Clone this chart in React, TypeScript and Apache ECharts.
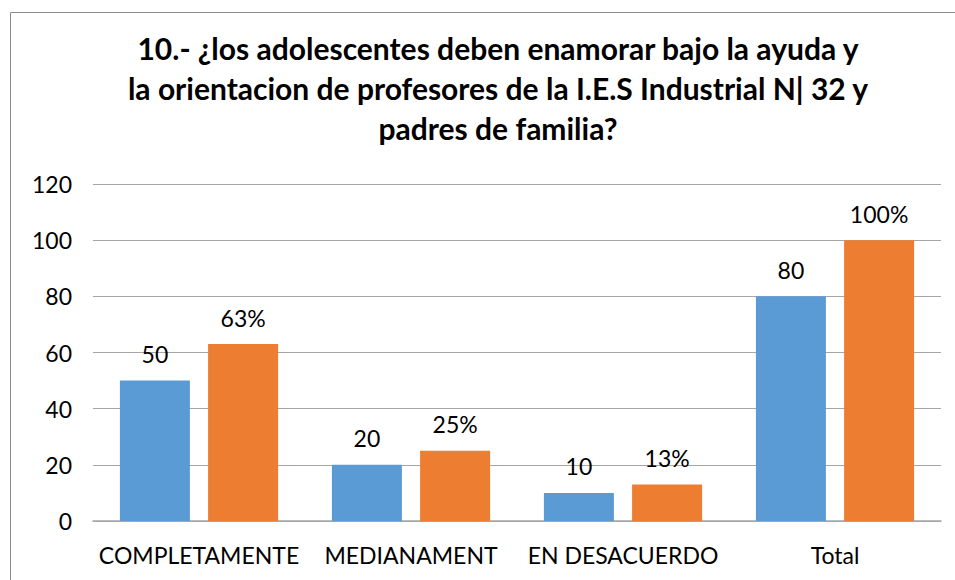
import React, { useEffect, useRef } from "react";
import * as echarts from "echarts";

const categories = ["COMPLETAMENTE", "MEDIANAMENT", "EN DESACUERDO", "Total"];
const countValues = [50, 20, 10, 80];
const percentValues = [63, 25, 13, 100];
const titleLines = [
  "10.- ¿los adolescentes deben enamorar bajo la ayuda y",
  "la orientacion de profesores de la I.E.S Industrial N| 32 y",
  "padres de familia?",
];

const FONT = "Lato, 'Liberation Sans', sans-serif";

export default function App() {
  const ref = useRef<HTMLDivElement>(null);
  useEffect(() => {
    document.body.style.margin = "0";
    const chart = echarts.init(ref.current!, null, { renderer: "svg" });
    chart.setOption({
      animation: false,
      backgroundColor: "#ffffff",
      textStyle: { fontFamily: FONT },
      graphic: [
        {
          type: "rect",
          shape: { x: 10.5, y: 12.5, width: 960, height: 600 },
          style: { fill: "none", stroke: "#8c8c8c", lineWidth: 1 },
          silent: true,
        },
        ...titleLines.map((t, i) => ({
          type: "text",
          x: 498,
          y: 48 + i * 40,
          style: {
            text: t,
            fontFamily: FONT,
            fontSize: 30,
            fontWeight: "bold",
            fill: "#000000",
            textAlign: "center",
            textVerticalAlign: "middle",
          },
        })),
      ],
      grid: { left: 93, right: 14, top: 184, bottom: 59, containLabel: false },
      xAxis: {
        type: "category",
        data: categories,
        axisLine: { lineStyle: { color: "#a6a6a6", width: 1.5 } },
        axisTick: { show: false },
        axisLabel: { color: "#000", fontSize: 23, margin: 22, fontFamily: FONT, interval: 0 },
      },
      yAxis: {
        type: "value",
        min: 0,
        max: 120,
        interval: 20,
        axisLine: { show: false },
        axisTick: { show: false },
        axisLabel: { color: "#000", fontSize: 23, margin: 21, fontFamily: FONT },
        splitLine: { lineStyle: { color: "#a6a6a6", width: 1 } },
      },
      series: [
        {
          type: "bar",
          data: countValues,
          barWidth: 70,
          barGap: "26%",
          itemStyle: { color: "#5B9BD5" },
          label: { show: true, position: "top", distance: 15, color: "#000", fontSize: 23, fontFamily: FONT },
        },
        {
          type: "bar",
          data: percentValues,
          barWidth: 70,
          barGap: "26%",
          itemStyle: { color: "#ED7D31" },
          label: {
            show: true,
            position: "top",
            distance: 15,
            color: "#000",
            fontSize: 23,
            fontFamily: FONT,
            formatter: (p: any) => p.value + "%",
          },
        },
      ],
    });
    return () => chart.dispose();
  }, []);
  return <div ref={ref} style={{ width: 955, height: 580 }} />;
}
